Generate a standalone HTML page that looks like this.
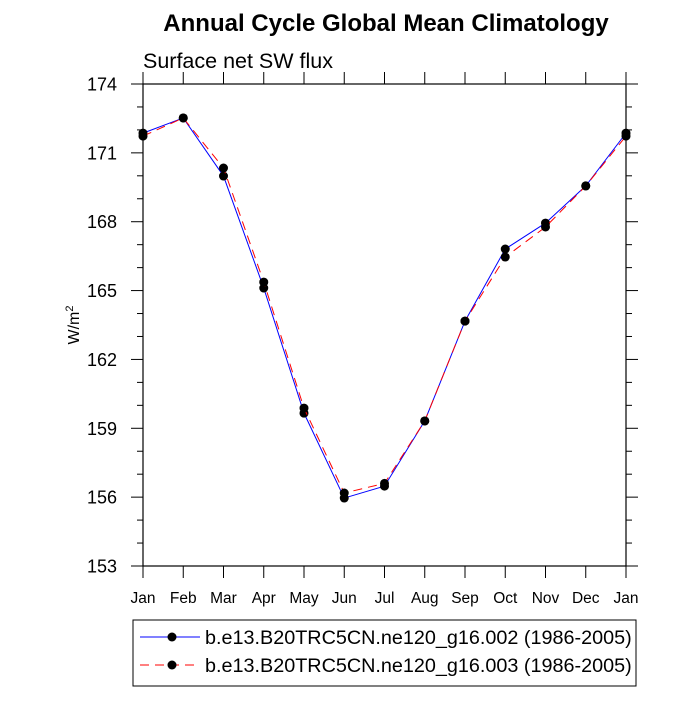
<!DOCTYPE html>
<html><head><meta charset="utf-8"><style>
body{margin:0;background:#fff;}
svg text{font-family:"Liberation Sans",sans-serif;}
</style></head><body>
<svg id="chart" width="700" height="700" xmlns="http://www.w3.org/2000/svg">
<text x="386" y="31" text-anchor="middle" font-size="24" font-weight="bold">Annual Cycle Global Mean Climatology</text>
<text x="143" y="68" font-size="21.5">Surface net SW flux</text>
<text transform="translate(79,325) rotate(-90)" text-anchor="middle" font-size="16">W/m<tspan dy="-6" font-size="11">2</tspan></text>
<g id="axes"></g>
<g id="series"></g>
<rect x="133" y="620" width="503" height="66" fill="none" stroke="#000" stroke-width="1"/>
<g>
<line x1="140" y1="637" x2="200" y2="637" stroke="#00f" stroke-width="1"/>
<circle cx="172" cy="637" r="4.5" fill="#000"/>
<text x="205" y="644" font-size="19.8">b.e13.B20TRC5CN.ne120_g16.002 (1986-2005)</text>
</g>
<g>
<line x1="140" y1="665" x2="200" y2="665" stroke="#f00" stroke-width="1" stroke-dasharray="9,6"/>
<circle cx="172" cy="665" r="4.5" fill="#000"/>
<text x="205" y="672" font-size="19.8">b.e13.B20TRC5CN.ne120_g16.003 (1986-2005)</text>
</g>
</svg>
<script>
const months = ["Jan","Feb","Mar","Apr","May","Jun","Jul","Aug","Sep","Oct","Nov","Dec","Jan"];
const series002 = [171.86,172.52,169.99,165.11,159.66,155.96,156.48,159.32,163.67,166.81,167.94,169.56,171.86];
const series003 = [171.73,172.52,170.34,165.37,159.88,156.18,156.6,159.32,163.67,166.46,167.77,169.56,171.73];
const yTicks = [153,156,159,162,165,168,171,174];
const NS="http://www.w3.org/2000/svg";
const L=143,R=626,T=84,B=566,YMIN=153,YMAX=174;
const xs=i=>L+(R-L)*i/(months.length-1);
const ys=v=>B-(v-YMIN)/(YMAX-YMIN)*(B-T);
function mk(tag,attrs,parent){const e=document.createElementNS(NS,tag);for(const k in attrs)e.setAttribute(k,attrs[k]);parent.appendChild(e);return e;}
const ax=document.getElementById('axes');
const frame=mk('rect',{x:L,y:T,width:R-L,height:B-T,fill:'none',stroke:'#000','stroke-width':1.2},ax);


for(let v=YMIN;v<=YMAX;v++){
  const y=ys(v),maj=(v-YMIN)%3===0,len=maj?12:6;
  mk('line',{x1:L-len,y1:y,x2:L,y2:y,stroke:'#000','stroke-width':1},ax);
  mk('line',{x1:R,y1:y,x2:R+len,y2:y,stroke:'#000','stroke-width':1},ax);
}
yTicks.forEach(v=>{
  const t=mk('text',{x:L-26,y:ys(v)+6.5,'text-anchor':'end','font-size':18},ax);
  t.textContent=v;
  
  
});
months.forEach((m,i)=>{
  const x=xs(i);
  mk('line',{x1:x,y1:B,x2:x,y2:B+12,stroke:'#000','stroke-width':1},ax);
  mk('line',{x1:x,y1:T-12,x2:x,y2:T,stroke:'#000','stroke-width':1},ax);
  const t=mk('text',{x:x,y:603,'text-anchor':'middle','font-size':15.5},ax);
  t.textContent=m;
  
  
});
const sg=document.getElementById('series');
function draw(data,color,dash,name){
  const g=mk('g',{},sg);
  
  
  const pts=data.map((v,i)=>xs(i)+','+ys(v)).join(' ');
  const a={points:pts,fill:'none',stroke:color,'stroke-width':1};
  if(dash)a['stroke-dasharray']=dash;
  mk('polyline',a,g);
  data.forEach((v,i)=>{
    const c=mk('circle',{cx:xs(i),cy:ys(v),r:4.5,fill:'#000'},g);
    
    
  });
}
draw(series002,'#00f',null,'series-002');
draw(series003,'#f00','9,6','series-003');
</script>
</body></html>
